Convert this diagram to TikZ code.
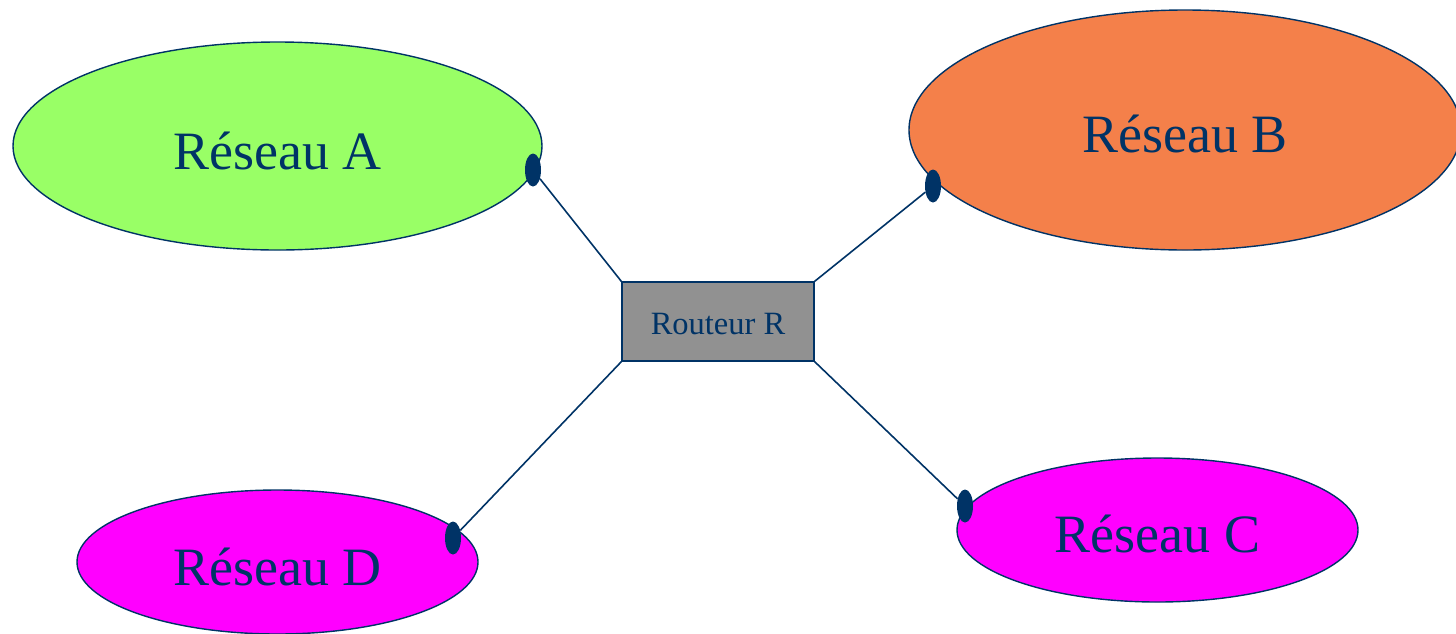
\documentclass[tikz,border=0pt]{standalone}
\usepackage{fontspec}
\setmainfont{Liberation Serif}
\usetikzlibrary{shapes.geometric}
\definecolor{ink}{RGB}{0,51,102}
\definecolor{netgreen}{RGB}{153,255,102}
\definecolor{netorange}{RGB}{244,128,74}
\definecolor{netmagenta}{RGB}{255,0,255}
\definecolor{routergray}{RGB}{145,145,145}
% drop a label slightly below the centre of its shape
\newcommand{\lowered}[2]{\raisebox{-#1}[\height][\depth]{#2}}
\tikzset{
  network/.style={ellipse, draw=ink, line width=1.4pt, inner sep=0pt, text=ink,
    font=\fontsize{54}{64}\selectfont},
  router/.style={rectangle, draw=ink, fill=routergray, line width=1.4pt, inner sep=0pt,
    minimum width=192pt, minimum height=79pt, text=ink, font=\fontsize{32.5}{38}\selectfont},
  port/.style={ellipse, fill=ink, inner sep=0pt, minimum width=16pt, minimum height=33pt},
  link/.style={draw=ink, line width=1.6pt}
}
\begin{document}
\begin{tikzpicture}[x=1pt,y=-1pt]
\useasboundingbox (0,0) rectangle (1456,633);
% networks
\node[network, fill=netgreen, minimum width=529pt, minimum height=208pt] (netA) at (277.5,146) {\lowered{5pt}{Réseau A}};
\node[network, fill=netorange, minimum width=552pt, minimum height=240pt] (netB) at (1185,130) {\lowered{4pt}{Réseau B}};
\node[network, fill=netmagenta, minimum width=401pt, minimum height=144pt] (netC) at (1157.5,530) {\lowered{4pt}{Réseau C}};
\node[network, fill=netmagenta, minimum width=401pt, minimum height=144pt] (netD) at (277.5,562) {\lowered{5pt}{Réseau D}};
% router
\node[router] (R) at (718,321.5) {\lowered{3pt}{Routeur R}};
% interfaces on the networks
\node[port] (pA) at (533,170) {};
\node[port] (pB) at (933,186) {};
\node[port] (pC) at (965,506) {};
\node[port] (pD) at (453,538) {};
% links
\draw[link] (R.north west) -- (pA);
\draw[link] (R.north east) -- (pB);
\draw[link] (R.south east) -- (pC);
\draw[link] (R.south west) -- (pD);
\end{tikzpicture}
\end{document}
